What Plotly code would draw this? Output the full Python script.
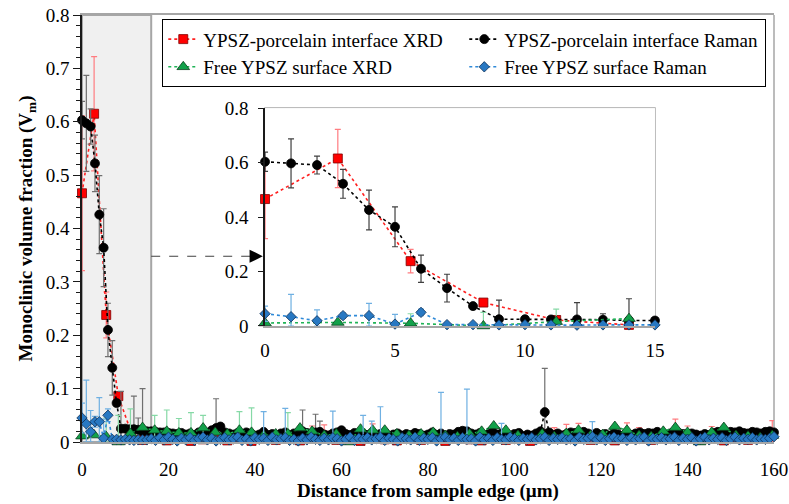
import numpy as np
import plotly.graph_objects as go

# ---------------- data ----------------
# Raman line scans: one point per micrometre
raman_x = list(range(0, 161))

raman_interface = [
    0.603, 0.597, 0.591, 0.522, 0.426, 0.364, 0.210, 0.139, 0.073, 0.025,
    0.025, 0.024, 0.024, 0.023, 0.020, 0.020,
    0.020, 0.019, 0.018, 0.018, 0.017, 0.016, 0.015, 0.017, 0.014, 0.016,
    0.013, 0.018, 0.020, 0.016, 0.022, 0.026, 0.029, 0.018, 0.016, 0.014,
    0.017, 0.015, 0.018, 0.016, 0.012, 0.014, 0.019, 0.013, 0.015, 0.012,
    0.016, 0.018, 0.012, 0.016, 0.014, 0.020, 0.017, 0.015, 0.018, 0.019,
    0.014, 0.012, 0.016, 0.018, 0.022, 0.015, 0.013, 0.017, 0.014, 0.016,
    0.013, 0.017, 0.012, 0.015, 0.018, 0.011, 0.014, 0.016, 0.012, 0.015,
    0.013, 0.017, 0.015, 0.012, 0.014, 0.018, 0.013, 0.016, 0.011, 0.015,
    0.014, 0.019, 0.021, 0.020, 0.016, 0.014, 0.017, 0.012, 0.015, 0.018,
    0.014, 0.016, 0.013, 0.012, 0.015, 0.017, 0.011, 0.014, 0.012, 0.016,
    0.020, 0.056, 0.018, 0.013, 0.016, 0.012, 0.015, 0.018, 0.017, 0.014,
    0.019, 0.016, 0.014, 0.017, 0.013, 0.015, 0.012, 0.016, 0.014, 0.011,
    0.015, 0.013, 0.016, 0.018, 0.015, 0.017, 0.016, 0.019, 0.014, 0.012,
    0.016, 0.014, 0.017, 0.015, 0.013, 0.016, 0.014, 0.012, 0.015, 0.013,
    0.017, 0.019, 0.018, 0.016, 0.019, 0.018, 0.020, 0.017, 0.016, 0.019,
    0.018, 0.016, 0.019, 0.020, 0.018,
]
raman_interface_err = {0: 0.035, 1: 0.09, 2: 0.033, 3: 0.053, 4: 0.073, 5: 0.073,
                       6: 0.05, 7: 0.051, 9: 0.07, 12: 0.062, 13: 0.022, 14: 0.08,
                       31: 0.055, 51: 0.04, 54: 0.034, 55: 0.02, 107: 0.082}

raman_free = [
    0.045, 0.034, 0.019, 0.038, 0.038, 0.007, 0.050, 0.005, 0.005, 0.004,
    0.005, 0.004, 0.003, 0.004, 0.004, 0.004,
    0.006, 0.003, 0.008, 0.004, 0.009, 0.005, 0.002, 0.007, 0.004, 0.008,
    0.003, 0.006, 0.009, 0.004, 0.007, 0.002, 0.005, 0.008, 0.004, 0.006,
    0.009, 0.003, 0.006, 0.002, 0.008, 0.005, 0.007, 0.003, 0.009, 0.004,
    0.006, 0.008, 0.003, 0.005, 0.002, 0.007, 0.004, 0.009, 0.005, 0.003,
    0.007, 0.004, 0.008, 0.006, 0.002, 0.005, 0.009, 0.003, 0.007, 0.005,
    0.008, 0.004, 0.006, 0.009, 0.003, 0.007, 0.005, 0.002, 0.008, 0.006,
    0.004, 0.009, 0.003, 0.007, 0.005, 0.008, 0.002, 0.006, 0.009, 0.004,
    0.007, 0.003, 0.008, 0.005, 0.006, 0.002, 0.009, 0.004, 0.007, 0.003,
    0.008, 0.005, 0.004, 0.009, 0.006, 0.003, 0.007, 0.005, 0.008, 0.004,
    0.006, 0.009, 0.003, 0.007, 0.005, 0.008, 0.004, 0.006, 0.002, 0.009,
    0.005, 0.007, 0.010, 0.004, 0.008, 0.003, 0.006, 0.009, 0.005, 0.007,
    0.003, 0.008, 0.004, 0.006, 0.009, 0.002, 0.007, 0.005, 0.008, 0.004,
    0.006, 0.009, 0.003, 0.007, 0.005, 0.008, 0.002, 0.006, 0.009, 0.004,
    0.007, 0.005, 0.008, 0.003, 0.006, 0.009, 0.004, 0.007, 0.005, 0.008,
    0.004, 0.006, 0.005, 0.007, 0.010,
]
raman_free_err = {0: 0.028, 1: 0.082, 2: 0.04, 3: 0.01, 4: 0.045, 5: 0.036, 6: 0.012,
                  42: 0.05, 47: 0.055, 58: 0.05, 65: 0.045, 67: 0.035, 69: 0.057,
                  83: 0.087, 89: 0.094, 97: 0.03, 118: 0.028}

# XRD scans: one point every 2.8 micrometres
xrd_x = [round(i * 2.8, 1) for i in range(58)]

xrd_interface = [
    0.466, 0.615, 0.238, 0.086, 0.022, 0.004, 0.006, 0.003, 0.008, 0.002,
    0.005, 0.010, 0.003, 0.007, 0.002, 0.009, 0.004, 0.006, 0.003, 0.010,
    0.012, 0.004, 0.007, 0.002, 0.011, 0.005, 0.003, 0.008, 0.004, 0.006,
    0.002, 0.009, 0.005, 0.003, 0.007, 0.004, 0.006, 0.002, 0.015, 0.008,
    0.012, 0.011, 0.004, 0.006, 0.003, 0.013, 0.007, 0.004, 0.009, 0.012,
    0.010, 0.005, 0.008, 0.003, 0.006, 0.004, 0.009, 0.014,
]
xrd_interface_err = {0: 0.145, 1: 0.107, 2: 0.043, 3: 0.006, 4: 0.005, 19: 0.02,
                     20: 0.02, 24: 0.023, 39: 0.019, 40: 0.021, 41: 0.024, 45: 0.023,
                     46: 0.02, 49: 0.031, 50: 0.02, 52: 0.021, 57: 0.026}

xrd_free = [
    0.011, 0.013, 0.010, 0.000, 0.016, 0.027, 0.022, 0.020, 0.017, 0.017,
    0.026, 0.018, 0.015, 0.022, 0.018, 0.012, 0.015, 0.015, 0.026, 0.020,
    0.012, 0.015, 0.000, 0.024, 0.022, 0.022, 0.015, 0.012, 0.015, 0.018,
    0.012, 0.010, 0.015, 0.020, 0.030, 0.022, 0.012, 0.004, 0.015, 0.010,
    0.016, 0.022, 0.012, 0.014, 0.029, 0.022, 0.012, 0.010, 0.020, 0.027,
    0.018, 0.000, 0.018, 0.027, 0.012, 0.011, 0.008, 0.012,
]
xrd_free_err = {2: 0.035, 3: 0.05, 4: 0.046, 6: 0.028, 7: 0.04, 8: 0.027, 9: 0.038,
                10: 0.024, 13: 0.035, 14: 0.046, 17: 0.04}

x_ticks_main = [0, 20, 40, 60, 80, 100, 120, 140, 160]
y_ticks_main = [0, 0.1, 0.2, 0.3, 0.4, 0.5, 0.6, 0.7, 0.8]
x_ticks_inset = [0, 5, 10, 15]
y_ticks_inset = [0, 0.2, 0.4, 0.6, 0.8]

FONT = "'Liberation Serif', 'Times New Roman', Times, serif"

series = [
    dict(name="YPSZ-porcelain interface XRD", x=xrd_x, y=xrd_interface,
         err=xrd_interface_err, by_index=True, symbol="square", size=9,
         fill="#ff0000", edge="#7f0000", line="#ff2020", errc="#ff7c80"),
    dict(name="YPSZ-porcelain interface Raman", x=raman_x, y=raman_interface,
         err=raman_interface_err, by_index=False, symbol="circle", size=9,
         fill="#000000", edge="#000000", line="#000000", errc="#6f6f6f"),
    dict(name="Free YPSZ surface XRD", x=xrd_x, y=xrd_free,
         err=xrd_free_err, by_index=True, symbol="triangle-up", size=11,
         fill="#12a14a", edge="#0b3d1c", line="#1fb356", errc="#86d9a6"),
    dict(name="Free YPSZ surface Raman", x=raman_x, y=raman_free,
         err=raman_free_err, by_index=False, symbol="diamond", size=8,
         fill="#2878c2", edge="#0d2f57", line="#2f8ad8", errc="#6fb0e2"),
]

fig = go.Figure()

for s in series:
    xs = np.array(s["x"], dtype=float)
    ys = np.array(s["y"], dtype=float)
    keys = range(len(xs)) if s["by_index"] else s["x"]
    e = np.array([s["err"].get(k, 0.0) for k in keys])
    em = np.minimum(e, ys)
    common = dict(
        mode="lines+markers",
        line=dict(color=s["line"], width=1.6, dash="dot"),
        marker=dict(symbol=s["symbol"], size=s["size"], color=s["fill"],
                    line=dict(color=s["edge"], width=0.8)),
        cliponaxis=False,
    )
    fig.add_trace(go.Scatter(
        x=xs, y=ys, name=s["name"], xaxis="x", yaxis="y",
        error_y=dict(type="data", symmetric=False, array=e, arrayminus=em,
                     color=s["errc"], thickness=1.2, width=3),
        **common))
    m = xs <= 15
    fig.add_trace(go.Scatter(
        x=xs[m], y=ys[m], name=s["name"], xaxis="x2", yaxis="y2", showlegend=False,
        error_y=dict(type="data", symmetric=False, array=e[m], arrayminus=em[m],
                     color=s["errc"] if s["symbol"] != "circle" else "#404040",
                     thickness=1.2, width=3),
        **common))

tick_font = dict(family=FONT, size=19, color="black")
title_font = dict(family=FONT, size=19, color="black")

fig.update_layout(
    width=789, height=504,
    margin=dict(l=82, r=15, t=15, b=62, autoexpand=False),
    paper_bgcolor="white", plot_bgcolor="white",
    font=dict(family=FONT, size=19, color="black"),
    showlegend=True,
    legend=dict(
        orientation="h", x=0.116, y=0.99, xanchor="left", yanchor="top",
        entrywidth=256, entrywidthmode="pixels",
        bgcolor="white", bordercolor="black", borderwidth=1,
        font=dict(family=FONT, size=19, color="black"),
        tracegroupgap=0, itemwidth=30,
    ),
    xaxis=dict(
        domain=[0, 1], range=[0, 160], tickvals=x_ticks_main, automargin=False,
        showline=True, linecolor="#a6a6a6", linewidth=1.5, mirror=True,
        showgrid=False, zeroline=False, ticks="", tickfont=tick_font,
        ticklabelstandoff=9,
        title=dict(text="<b>Distance from sample edge (µm)</b>",
                   font=title_font, standoff=3),
    ),
    yaxis=dict(
        domain=[0, 1], range=[0, 0.8], tickvals=y_ticks_main, automargin=False,
        ticktext=["0", "0.1", "0.2", "0.3", "0.4", "0.5", "0.6", "0.7", "0.8"],
        showline=True, linecolor="#1a1a1a", linewidth=1.5,
        showgrid=False, zeroline=False,
        ticks="outside", ticklen=7, tickwidth=1, tickcolor="#1a1a1a",
        minor=dict(dtick=0.02, ticks="outside", ticklen=4, tickcolor="#1a1a1a", showgrid=False),
        tickfont=tick_font,
        title=dict(text="<b>Monoclinic volume fraction (V<sub>m</sub>)</b>",
                   font=title_font, standoff=8),
    ),
    xaxis2=dict(
        domain=[0.2645, 0.828], anchor="y2", range=[0, 15], tickvals=x_ticks_inset,
        automargin=False,
        showline=True, linecolor="#a6a6a6", linewidth=1.5,
        showgrid=False, zeroline=False, ticks="", tickfont=tick_font,
        ticklabelstandoff=6,
    ),
    yaxis2=dict(
        domain=[0.2717, 0.782], anchor="x2", range=[0, 0.8], tickvals=y_ticks_inset,
        automargin=False,
        ticktext=["0", "0.2", "0.4", "0.6", "0.8"],
        showline=True, linecolor="#1a1a1a", linewidth=1.5,
        showgrid=False, zeroline=False,
        ticks="outside", ticklen=5, tickcolor="#1a1a1a", tickfont=tick_font,
        ticklabelstandoff=6,
    ),
    shapes=[
        # highlighted near-edge region (0-16 µm) of the main plot
        dict(type="rect", xref="x", yref="y", x0=0, x1=16, y0=0, y1=0.8,
             fillcolor="#f0f0f0", line=dict(color="#a6a6a6", width=2), layer="below"),
        # right border of main plot
        dict(type="line", xref="paper", yref="paper", x0=1, x1=1, y0=0, y1=1,
             line=dict(color="#a6a6a6", width=1.5), layer="below"),
        # inset background
        dict(type="rect", xref="x2 domain", yref="y2 domain", x0=0, x1=1, y0=0, y1=1,
             fillcolor="#f2f2f2", line=dict(color="#a6a6a6", width=1.5), layer="below"),
        # dashed connector towards the inset
        dict(type="line", xref="x", yref="y", x0=16, x1=40, y0=0.348, y1=0.348,
             line=dict(color="#404040", width=1, dash="dash")),
    ],
    annotations=[
        dict(x=41.8, y=0.348, xref="x", yref="y", ax=-14, ay=0, axref="pixel", ayref="pixel",
             text="", showarrow=True, arrowhead=2, arrowsize=2.2, arrowwidth=1.2,
             arrowcolor="black"),
    ],
)

fig.write_html("out.html", config={"displayModeBar": False},
               post_script="document.body.style.margin='0px';")
